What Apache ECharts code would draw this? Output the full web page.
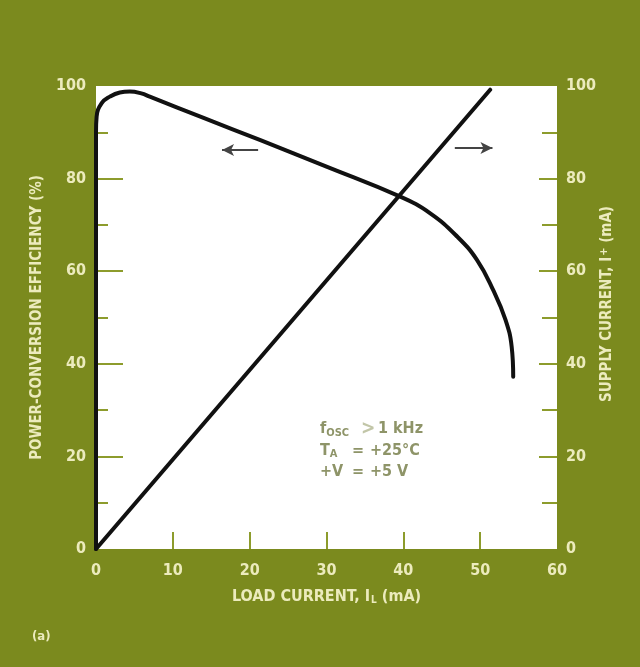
<!DOCTYPE html>
<html><head><meta charset="utf-8">
<script src="https://cdn.jsdelivr.net/npm/echarts@6/dist/echarts.min.js"></script>
<style>html,body{margin:0;padding:0;background:#7b8a1e;}#c{width:640px;height:667px;}</style>
</head><body><div id="c"></div>
<script>
// Power-conversion efficiency (%) vs load current (mA), left axis
const effCurrent = [0, 0, 0.08, 0.74, 1.8, 3.1, 4.4, 5.9, 7.0, 14, 21.4, 30, 39.6, 43.5, 47.0, 49.6, 51.7, 53.3, 54.1, 54.3];
const effValue   = [0, 90, 93.4, 96.3, 97.7, 98.6, 98.8, 98.4, 97.7, 93.1, 88.3, 82.6, 76.1, 72.5, 67.5, 62.4, 55.9, 49.5, 43.7, 37.2];
// Supply current (mA) vs load current (mA), right axis
const supCurrent = [0, 51.3];
const supValue   = [0, 99.2];
// axis ranges / ticks
const xTicks = [0, 10, 20, 30, 40, 50, 60];
const yTicks = [0, 20, 40, 60, 80, 100];
const xTickMarks = [10, 20, 30, 40, 50];
const yTickMarks = [20, 40, 60, 80];
// direction arrows (data units)
const leftArrow  = {from: [21.1, 86.2], to: [16.4, 86.2]};
const rightArrow = {from: [46.7, 86.6], to: [51.6, 86.6]};
// conditions text (symbol, subscript, relation, value)
const condSymbols = [['f', 'OSC'], ['T', 'A'], ['+V', '']];
const condRelations = ['>', '=', '='];
const condValues = ['1 kHz', '+25°C', '+5 V'];

const cream = '#ecebbd';
const tickGreen = '#8d9c2c';
const font = '"Liberation Sans Narrow","DejaVu Sans Condensed","Roboto",sans-serif';
const annColor = '#8e9468';

const chart = echarts.init(document.getElementById('c'));

const yAxisCommon = {
  type: 'value', min: yTicks[0], max: yTicks[yTicks.length - 1], interval: 20,
  axisLine: {show: false}, splitLine: {show: false},
  nameLocation: 'middle',
};
const labelStyle = {color: cream, fontFamily: font, fontWeight: 'bold', fontSize: 16};

const annRich = {
  m: {fill: annColor, fontFamily: font, fontWeight: 'bold', fontSize: 16},
  s: {fill: annColor, fontFamily: font, fontWeight: 'bold', fontSize: 11, verticalAlign: 'bottom', padding: [8, 0, 0, 0]},
  p: {fill: '#c2c6a8', fontFamily: font, fontWeight: 'bold', fontSize: 19}
};

const annGraphics = [];
condSymbols.forEach((r, i) => {
  const y = 429 + 21.5 * i;
  annGraphics.push({type: 'text', x: 320, y: y, style: {
    text: '{m|' + r[0] + '}' + (r[1] ? '{s|' + r[1] + '}' : ''), verticalAlign: 'middle', rich: annRich}});
  const rel = condRelations[i];
  annGraphics.push({type: 'text', x: rel === '>' ? 361 : 352, y: y, style: {
    text: rel === '>' ? '{p|' + rel + '}' : '{m|' + rel + '}', verticalAlign: 'middle', rich: annRich}});
  annGraphics.push({type: 'text', x: rel === '>' ? 378 : 370, y: y, style: {
    text: '{m|' + condValues[i] + '}', verticalAlign: 'middle', rich: annRich}});
});

chart.setOption({
  backgroundColor: '#7b8a1e',
  animation: false,
  grid: {left: 96, right: 83, top: 86, bottom: 118, show: true, backgroundColor: '#ffffff', borderWidth: 0},
  xAxis: {
    type: 'value', min: xTicks[0], max: xTicks[xTicks.length - 1], interval: 10,
    axisLine: {show: false}, splitLine: {show: false},
    axisTick: {show: true, inside: true, length: 17, customValues: xTickMarks, lineStyle: {color: tickGreen, width: 2}},
    axisLabel: Object.assign({}, labelStyle, {margin: 14}),
    name: '{a|LOAD CURRENT, I}{s|L}{a| (mA)}', nameLocation: 'middle', nameGap: 40,
    nameTextStyle: {rich: {
      a: {color: cream, fontFamily: font, fontWeight: 'bold', fontSize: 16},
      s: {color: cream, fontFamily: font, fontWeight: 'bold', fontSize: 10, verticalAlign: 'bottom', padding: [6, 0, 0, 1]}
    }}
  },
  yAxis: [
    Object.assign({}, yAxisCommon, {
      position: 'left',
      axisTick: {show: true, inside: true, length: 27, customValues: yTickMarks, lineStyle: {color: tickGreen, width: 2}},
      minorTick: {show: true, splitNumber: 2, length: 12, lineStyle: {color: tickGreen, width: 2}},
      axisLabel: Object.assign({}, labelStyle, {margin: 10}),
      name: 'POWER-CONVERSION EFFICIENCY (%)', nameGap: 49,
      nameTextStyle: {color: cream, fontFamily: font, fontWeight: 'bold', fontSize: 15}
    }),
    Object.assign({}, yAxisCommon, {
      position: 'right',
      axisTick: {show: true, inside: true, length: 18, customValues: yTickMarks, lineStyle: {color: tickGreen, width: 2}},
      minorTick: {show: true, splitNumber: 2, length: 15, lineStyle: {color: tickGreen, width: 2}},
      axisLabel: Object.assign({}, labelStyle, {margin: 9})
    })
  ],
  series: [
    {
      type: 'line', yAxisIndex: 0, showSymbol: false, symbol: 'none', smooth: 0.45,
      data: effCurrent.map((x, i) => [x, effValue[i]]),
      lineStyle: {color: '#111111', width: 4, join: 'round', cap: 'round'},
      markLine: {
        silent: true, symbol: ['none', 'arrow'], symbolSize: [9, 12], label: {show: false},
        lineStyle: {color: '#444444', width: 2, type: 'solid'},
        data: [[{coord: leftArrow.from}, {coord: leftArrow.to}]]
      }
    },
    {
      type: 'line', yAxisIndex: 1, showSymbol: false, symbol: 'none',
      data: supCurrent.map((x, i) => [x, supValue[i]]),
      lineStyle: {color: '#111111', width: 4, cap: 'round'},
      markLine: {
        silent: true, symbol: ['none', 'arrow'], symbolSize: [9, 12], label: {show: false},
        lineStyle: {color: '#444444', width: 2, type: 'solid'},
        data: [[{coord: rightArrow.from}, {coord: rightArrow.to}]]
      }
    }
  ],
  graphic: annGraphics.concat([
    {type: 'text', x: 607, y: 304, rotation: Math.PI / 2, style: {
      text: '{a|SUPPLY CURRENT, I}{p|+}{a| (mA)}', align: 'center', verticalAlign: 'middle',
      rich: {
        a: {fill: cream, fontFamily: font, fontWeight: 'bold', fontSize: 15},
        p: {fill: cream, fontFamily: font, fontWeight: 'bold', fontSize: 11, verticalAlign: 'top', padding: [0, 0, 6, 1]}
      }}},
    {type: 'text', left: 32, top: 630, style: {text: '(a)', fill: cream, fontFamily: font, fontWeight: 'bold', fontSize: 13}}
  ])
});
</script></body></html>
